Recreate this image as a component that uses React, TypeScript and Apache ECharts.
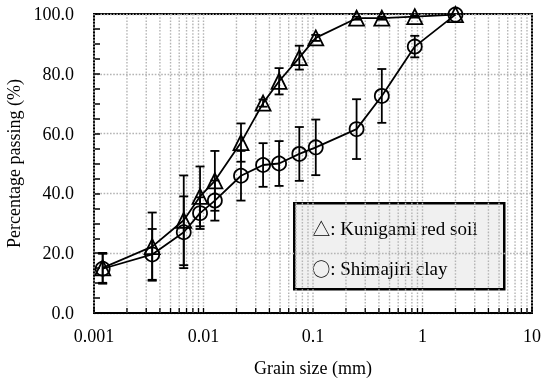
import React, { useEffect, useRef } from "react";
import * as echarts from "echarts";

// Grain sizes (mm)
const grainSizes = [0.0012, 0.0034, 0.0066, 0.0093, 0.0127, 0.022, 0.035, 0.049, 0.075, 0.106, 0.25, 0.425, 0.85, 2.0];
// Kunigami red soil (triangles)
const kunigami = [15.1, 22.2, 31, 39, 44.2, 57, 70.2, 77.5, 85.4, 92, 98.6, 98.6, 99.1, 99.8];
const kunigamiErr = [5, 11.4, 15, 10, 10, 6.4, 1.2, 4.4, 4, 1, 0.5, 0.5, 0.3, 0];
// Shimajiri clay (circles)
const shimajiri = [14.8, 19.6, 27, 33.4, 37.6, 45.9, 49.5, 50, 53.2, 55.4, 61.5, 72.6, 89.1, 99.8];
const shimajiriErr = [5, 8.5, 12, 5.3, 6.7, 8.3, 7.3, 7.5, 9, 9.3, 10, 9, 3.6, 0];

const seriesNames = ["Kunigami red soil", "Shimajiri clay"];
const legendMarks = ["△", "○"];
const xTickLabels = ["0.001", "0.01", "0.1", "1", "10"];
const decades = [0.001, 0.01, 0.1, 1];
const multipliers = [1, 2, 3, 4, 5, 6, 7, 8, 9];

const FONT = "Liberation Serif, Times New Roman, serif";

export default function App() {
  const ref = useRef<HTMLDivElement>(null);
  useEffect(() => {
    if (!ref.current) return;
    const chart = echarts.init(ref.current, null, { renderer: "svg" });

    const minorPositions: number[][] = [];
    decades.forEach((d) => multipliers.forEach((m) => minorPositions.push([+(d * m).toPrecision(3)])));
    minorPositions.push([10]);

    const errData = (xs: number[], ys: number[], es: number[]) =>
      xs.map((x, i) => [x, ys[i], es[i]]);

    const errorRender = (params: any, api: any) => {
      const x = api.value(0);
      const y = api.value(1);
      const e = api.value(2);
      if (!e) return null;
      const top = api.coord([x, y + e]);
      const bot = api.coord([x, y - e]);
      const hw = 4.5;
      const style = { stroke: "#000", lineWidth: 1.8 };
      return {
        type: "group",
        children: [
          { type: "line", shape: { x1: top[0], y1: top[1], x2: bot[0], y2: bot[1] }, style },
          { type: "line", shape: { x1: top[0] - hw, y1: top[1], x2: top[0] + hw, y2: top[1] }, style },
          { type: "line", shape: { x1: bot[0] - hw, y1: bot[1], x2: bot[0] + hw, y2: bot[1] }, style },
        ],
      };
    };

    const gridRender = (params: any, api: any) => {
      const x = api.value(0);
      const top = api.coord([x, 100]);
      const bot = api.coord([x, 0]);
      return {
        type: "group",
        children: [
          {
            type: "line",
            shape: { x1: top[0], y1: top[1], x2: bot[0], y2: bot[1] },
            style: { stroke: "#b4b4b4", lineWidth: 1.4, lineDash: [1.6, 1.6] },
          },
          {
            type: "line",
            shape: { x1: bot[0], y1: bot[1], x2: bot[0], y2: bot[1] - 5 },
            style: { stroke: "#000", lineWidth: 1.3 },
          },
        ],
      };
    };

    const legendText = (i: number) => ({
      text: "{m|" + legendMarks[i] + "}: " + seriesNames[i],
      font: "19px " + FONT,
      fill: "#000",
      verticalAlign: "middle",
      rich: {
        m: { fontFamily: "Noto Sans CJK JP", fontSize: 18, fill: "#000" },
      },
    });

    chart.setOption({
      animation: false,
      grid: {
        left: 94,
        right: 10,
        top: 14,
        bottom: 70,
        outerBoundsMode: "none",
        containLabel: false,
        show: true,
        borderColor: "#000",
        borderWidth: 2,
        backgroundColor: "transparent",
      },
      xAxis: {
        type: "log",
        logBase: 10,
        min: 0.001,
        max: 10,
        name: "Grain size (mm)",
        nameLocation: "middle",
        nameGap: 46,
        nameTextStyle: { fontFamily: FONT, fontSize: 18, color: "#000" },
        axisLine: { lineStyle: { color: "#000", width: 2 } },
        axisTick: { show: false },
        splitLine: { show: false },
        axisLabel: {
          fontFamily: FONT,
          fontSize: 18,
          color: "#000",
          margin: 14,
          formatter: (v: number) => {
            const idx = Math.round(Math.log10(v) + 3);
            return xTickLabels[idx] ?? "";
          },
        },
      },
      yAxis: {
        type: "value",
        min: 0,
        max: 100,
        interval: 20,
        name: "Percentage passing (%)",
        nameLocation: "middle",
        nameGap: 67,
        nameTextStyle: { fontFamily: FONT, fontSize: 18, color: "#000" },
        axisLine: { lineStyle: { color: "#000", width: 2 } },
        axisTick: { show: true, inside: true, length: 6, lineStyle: { color: "#000", width: 1.5 } },
        minorTick: { show: true, splitNumber: 4, length: 6, lineStyle: { color: "#000", width: 1.5 } },
        splitLine: { show: true, lineStyle: { color: "#b4b4b4", width: 1.4, type: [1.6, 1.6] } },
        axisLabel: {
          fontFamily: FONT,
          fontSize: 18,
          color: "#000",
          margin: 20,
          formatter: (v: number) => v.toFixed(1),
        },
      },
      series: [
        {
          type: "custom",
          name: "grid",
          renderItem: gridRender,
          data: minorPositions,
          z: 1,
          silent: true,
        },
        {
          type: "custom",
          name: "err1",
          renderItem: errorRender,
          data: errData(grainSizes, kunigami, kunigamiErr),
          z: 3,
        },
        {
          type: "custom",
          name: "err2",
          renderItem: errorRender,
          data: errData(grainSizes, shimajiri, shimajiriErr),
          z: 3,
        },
        {
          type: "line",
          name: seriesNames[0],
          data: grainSizes.map((x, i) => [x, kunigami[i]]),
          symbol: "triangle",
          symbolSize: 15,
          lineStyle: { color: "#000", width: 1.8 },
          itemStyle: { color: "rgba(0,0,0,0)", borderColor: "#000", borderWidth: 1.8 },
          z: 4,
        },
        {
          type: "line",
          name: seriesNames[1],
          data: grainSizes.map((x, i) => [x, shimajiri[i]]),
          symbol: "circle",
          symbolSize: 14,
          lineStyle: { color: "#000", width: 1.8 },
          itemStyle: { color: "rgba(0,0,0,0)", borderColor: "#000", borderWidth: 1.8 },
          z: 4,
        },
      ],
      graphic: [
        {
          type: "group",
          left: 293,
          top: 202,
          z: 10,
          children: [
            {
              type: "rect",
              shape: { x: 0, y: 0, width: 210, height: 86 },
              style: { fill: "#f0f0f0", stroke: "#000", lineWidth: 2.5 },
            },
            { type: "text", x: 18, y: 25, style: legendText(0) },
            { type: "text", x: 18, y: 65, style: legendText(1) },
          ],
        },
      ],
    });

    return () => chart.dispose();
  }, []);

  return <div ref={ref} style={{ position: "fixed", left: 0, top: 0, width: 542, height: 383 }} />;
}
